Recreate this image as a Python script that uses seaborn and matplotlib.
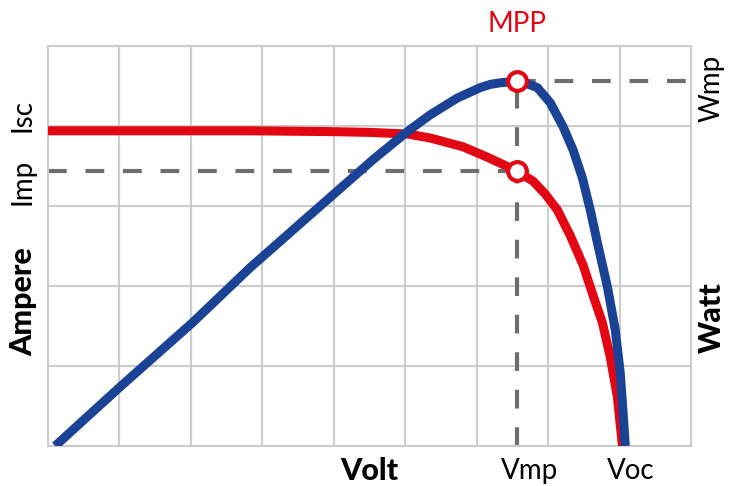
import matplotlib
matplotlib.use("Agg")
import matplotlib.pyplot as plt
import seaborn as sns
import pandas as pd

# Current (I-V) curve (grid units: x 0..9, y 0..5)
iv_volt = [0.00, 2.83, 3.95, 4.51, 5.03, 5.35, 5.81, 6.15, 6.56, 6.79, 6.96, 7.13,
           7.31, 7.49, 7.63, 7.76, 7.87, 7.97, 8.04]
iv_amp = [3.94, 3.94, 3.93, 3.92, 3.90, 3.85, 3.74, 3.61, 3.44, 3.31, 3.15, 2.95,
          2.63, 2.26, 1.88, 1.54, 1.11, 0.61, 0.00]

# Power (P-V) curve
pv_volt = [0.10, 1.01, 2.02, 2.83, 3.53, 4.13, 4.55, 5.03, 5.35, 5.73, 6.05, 6.19, 6.33,
           6.56, 6.70, 6.85, 7.03, 7.21, 7.35, 7.48, 7.59, 7.70, 7.83, 7.94, 8.01, 8.05, 8.08]
pv_watt = [0.00, 0.74, 1.54, 2.23, 2.78, 3.25, 3.58, 3.93, 4.14, 4.35, 4.48, 4.52, 4.54,
           4.56, 4.53, 4.48, 4.29, 3.99, 3.70, 3.35, 2.95, 2.50, 1.99, 1.45, 0.91, 0.41, 0.00]

# Maximum power point
mpp_v = 6.56
mpp_i = 3.44
mpp_p = 4.56

RED = "#e30613"
BLUE = "#1a4396"
GRAY = "#6e6e6e"
GRID = "#cccccc"

sns.set_theme(style="white")
plt.rcParams["font.family"] = ["Lato", "DejaVu Sans"]

fig = plt.figure(figsize=(7.29, 4.86), dpi=100)
ax = fig.add_axes([48 / 729, 40 / 486, (691 - 48) / 729, 400 / 486])
ax.set_xlim(0, 9)
ax.set_ylim(0, 5)
ax.set_xticks(range(10))
ax.set_yticks(range(6))
ax.set_xticklabels([])
ax.set_yticklabels([])
ax.tick_params(length=0)
ax.grid(True, color=GRID, lw=1.5)
for s in ax.spines.values():
    s.set_color(GRID)
    s.set_linewidth(1.5)

# dashed guides
dash = dict(color=GRAY, lw=3, dashes=(4.5, 4.5), zorder=2)
ax.plot([0, mpp_v], [mpp_i, mpp_i], **dash)
ax.plot([mpp_v, 9], [mpp_p, mpp_p], **dash)
ax.plot([mpp_v, mpp_v], [0, mpp_p], **dash)

iv = pd.DataFrame({"V": iv_volt, "Y": iv_amp})
pv = pd.DataFrame({"V": pv_volt, "Y": pv_watt})
sns.lineplot(data=iv, x="V", y="Y", sort=False, color=RED, lw=6.5, ax=ax, zorder=3,
             solid_capstyle="butt", solid_joinstyle="round")
sns.lineplot(data=pv, x="V", y="Y", sort=False, color=BLUE, lw=6.5, ax=ax, zorder=4,
             solid_capstyle="butt", solid_joinstyle="round")
ax.set_xlabel("")
ax.set_ylabel("")

ax.plot([mpp_v, mpp_v], [mpp_i, mpp_p], ls="none", marker="o", ms=13.5, mew=3,
        mfc="white", mec=RED, zorder=5, clip_on=False)

# texts
fs = 20
light = dict(fontsize=fs, fontweight="normal", ha="center", va="center")
heavy = dict(fontsize=22, fontweight="black", ha="center", va="center", color="black")
fig.text(517 / 729, 1 - 24 / 486, "MPP", color=RED, **light)
fig.text(23 / 729, 1 - 115 / 486, "Isc", color="black", rotation=90, **light)
fig.text(23 / 729, 1 - 182 / 486, "Imp", color="black", rotation=90, **light)
fig.text(23 / 729, 1 - 302 / 486, "Ampere", rotation=90, **heavy)
fig.text(712 / 729, 1 - 88 / 486, "Wmp", color="black", rotation=90, **light)
fig.text(712 / 729, 1 - 318 / 486, "Watt", rotation=90, **heavy)
fig.text(369 / 729, 1 - 471 / 486, "Volt", **heavy)
fig.text(530 / 729, 1 - 471 / 486, "Vmp", color="black", **light)
fig.text(631 / 729, 1 - 471 / 486, "Voc", color="black", **light)

fig.savefig("out.png", dpi=100, facecolor="white")
